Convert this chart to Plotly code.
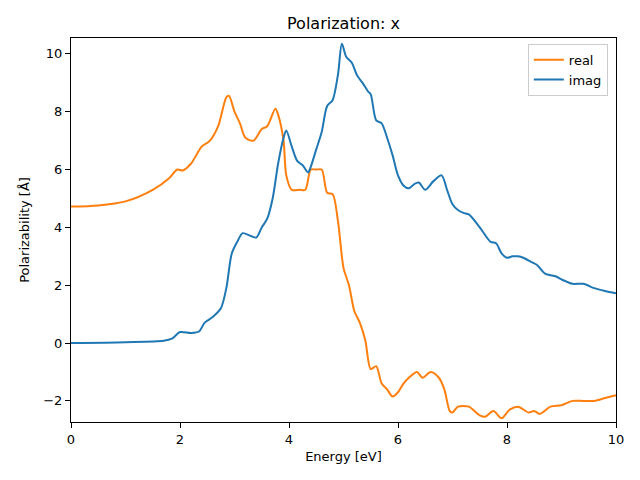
import plotly.graph_objects as go

real_E = [0, 0.5, 1.0, 1.5, 1.8, 1.95, 2.05, 2.2, 2.4, 2.55, 2.7, 2.85, 2.9, 3.0, 3.1, 3.2, 3.35, 3.5, 3.6, 3.75, 3.8, 3.9, 3.95, 4.05, 4.2, 4.3, 4.4, 4.5, 4.6, 4.7, 4.8, 4.9, 5.0, 5.1, 5.2, 5.3, 5.4, 5.5, 5.6, 5.7, 5.8, 5.9, 6.0, 6.1, 6.2, 6.35, 6.45, 6.6, 6.75, 6.85, 6.95, 7.0, 7.1, 7.3, 7.5, 7.6, 7.75, 7.9, 8.05, 8.2, 8.4, 8.5, 8.6, 8.8, 9.0, 9.2, 9.4, 9.6, 9.8, 10.0]
real_V = [4.72, 4.76, 4.9, 5.3, 5.7, 6.0, 5.97, 6.2, 6.8, 7.0, 7.5, 8.5, 8.55, 8.0, 7.6, 7.1, 7.0, 7.4, 7.5, 8.1, 7.9, 7.0, 5.8, 5.3, 5.3, 5.3, 6.0, 6.0, 6.0, 5.2, 5.15, 4.2, 2.6, 2.0, 1.1, 0.7, 0.1, -0.9, -0.8, -1.4, -1.6, -1.85, -1.7, -1.4, -1.2, -1.0, -1.2, -1.0, -1.2, -1.6, -2.35, -2.4, -2.2, -2.2, -2.5, -2.55, -2.35, -2.6, -2.3, -2.2, -2.4, -2.35, -2.45, -2.2, -2.15, -2.0, -2.0, -2.0, -1.9, -1.8]

imag_E = [0, 1.0, 1.7, 1.85, 2.0, 2.2, 2.35, 2.45, 2.6, 2.75, 2.85, 2.95, 3.05, 3.15, 3.3, 3.4, 3.5, 3.6, 3.7, 3.8, 3.9, 3.95, 4.05, 4.15, 4.25, 4.35, 4.4, 4.5, 4.6, 4.7, 4.8, 4.9, 4.97, 5.05, 5.15, 5.25, 5.35, 5.45, 5.5, 5.6, 5.7, 5.8, 5.9, 6.0, 6.1, 6.2, 6.3, 6.38, 6.5, 6.65, 6.8, 6.9, 7.0, 7.1, 7.2, 7.3, 7.5, 7.7, 7.8, 7.9, 8.0, 8.1, 8.2, 8.3, 8.45, 8.55, 8.7, 8.9, 9.0, 9.2, 9.4, 9.6, 9.8, 10.0]
imag_V = [0.0, 0.03, 0.08, 0.15, 0.38, 0.35, 0.4, 0.7, 0.9, 1.2, 1.9, 3.1, 3.5, 3.8, 3.7, 3.65, 4.0, 4.3, 5.0, 6.2, 7.1, 7.35, 6.8, 6.3, 6.15, 5.9, 6.1, 6.7, 7.3, 8.2, 8.4, 9.3, 10.35, 9.9, 9.7, 9.25, 9.0, 8.7, 8.6, 7.7, 7.6, 7.1, 6.5, 5.8, 5.45, 5.35, 5.5, 5.55, 5.3, 5.6, 5.8, 5.3, 4.8, 4.6, 4.5, 4.45, 4.0, 3.5, 3.45, 3.1, 2.95, 3.0, 3.0, 2.95, 2.8, 2.7, 2.4, 2.3, 2.2, 2.05, 2.05, 1.9, 1.8, 1.72]

x_ticks = [0, 2, 4, 6, 8, 10]
y_ticks = [-2, 0, 2, 4, 6, 8, 10]

fig = go.Figure()
fig.add_trace(go.Scatter(x=real_E, y=real_V, mode="lines", name="real",
                         line=dict(color="#ff7f0e", width=2, shape="spline", smoothing=0.8)))
fig.add_trace(go.Scatter(x=imag_E, y=imag_V, mode="lines", name="imag",
                         line=dict(color="#1f77b4", width=2, shape="spline", smoothing=0.8)))

axis_common = dict(showgrid=False, zeroline=False, showline=True, linecolor="black", linewidth=1,
                   mirror=True, ticks="outside", ticklen=5, tickwidth=1, tickcolor="black",
                   tickfont=dict(family="DejaVu Sans", size=13, color="black"))
fig.update_xaxes(range=[0, 10], tickvals=x_ticks,
                 title=dict(text="Energy [eV]", font=dict(family="DejaVu Sans", size=13, color="black"), standoff=6),
                 **axis_common)
fig.update_yaxes(range=[-2.73, 10.55], tickvals=y_ticks,
                 title=dict(text="Polarizability [Å]", font=dict(family="DejaVu Sans", size=13, color="black"), standoff=10),
                 **axis_common)

fig.update_layout(
    width=640, height=480,
    margin=dict(l=71, r=24, t=38, b=58),
    paper_bgcolor="white", plot_bgcolor="white",
    title=dict(text="Polarization: x", x=0.5, xref="paper", xanchor="center", y=1, yref="paper", yanchor="bottom",
               pad=dict(b=9), font=dict(family="DejaVu Sans", size=16, color="black")),
    legend=dict(x=0.985, y=0.985, xanchor="right", yanchor="top", bgcolor="rgba(255,255,255,0.8)",
                bordercolor="#cccccc", borderwidth=1, font=dict(family="DejaVu Sans", size=13, color="black"),
                tracegroupgap=0),
    showlegend=True,
)

fig.write_html("out.html", config={"displayModeBar": False},
               post_script="document.body.style.margin='0';")
